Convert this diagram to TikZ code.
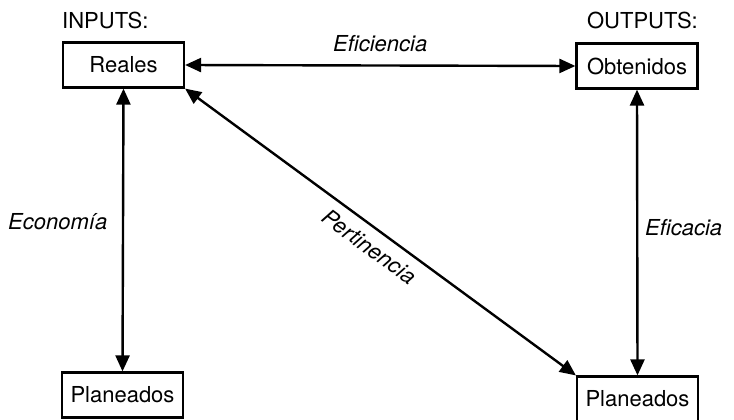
\documentclass[tikz,border=0pt]{standalone}
\usepackage{fontspec}
\setmainfont{TeX Gyre Heros}
\usetikzlibrary{arrows.meta}
\begin{document}
\begin{tikzpicture}[x=1pt,y=-1pt,
  box/.style={draw,line width=2.2pt,minimum width=121pt,minimum height=45pt,inner sep=0pt,font=\fontsize{22}{26}\selectfont},
  conn/.style={line width=2.4pt,{Triangle[length=16pt,width=14pt]}-{Triangle[length=16pt,width=14pt]}},
  lbl/.style={font=\fontsize{22}{26}\selectfont\itshape,inner sep=0pt},
  hdr/.style={font=\fontsize{22}{26}\selectfont,inner sep=0pt}]
\useasboundingbox (0,0) rectangle (734,420);
\node[box] (reales) at (123.5,65) {Reales};
\node[box] (obt) at (637,66) {Obtenidos};
\node[box] (planL) at (122.5,395) {Planeados};
\node[box] (planR) at (637.5,399) {Planeados};
\node[hdr,anchor=west] (inputs) at (62,20) {INPUTS:};
\node[hdr,anchor=east] (outputs) at (698,20) {OUTPUTS:};
\draw[conn] (reales.east) -- node[lbl,above=12pt] (efi) {Eficiencia} (obt.west);
\draw[conn] (reales.south) -- (planL.north);
\draw[conn] (obt.south) -- (planR.north);
\draw[conn] (reales.south east) -- node[lbl,sloped,pos=0.5,below=9pt] (pert) {Pertinencia} (planR.north west);
\node[lbl,anchor=west] (eco) at (8,222) {Economía};
\node[lbl,anchor=west] (efc) at (645,228) {Eficacia};
\end{tikzpicture}
\end{document}
